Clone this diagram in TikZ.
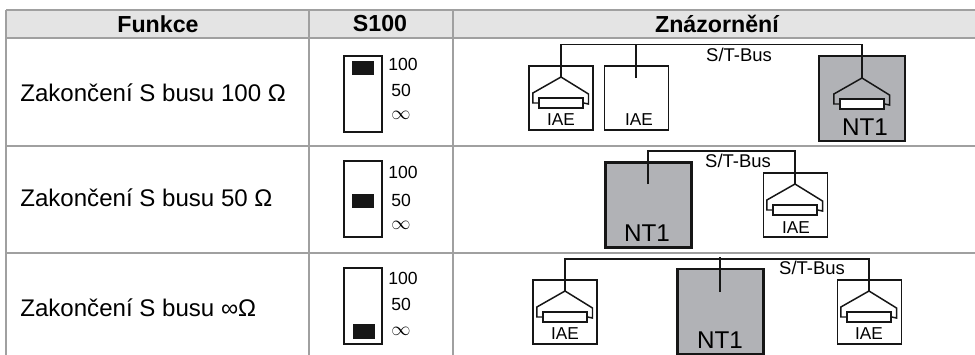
\documentclass[tikz,border=0pt]{standalone}
\usepackage{fontspec}
\setmainfont{Liberation Sans}
\usetikzlibrary{calc}

\definecolor{rulegray}{HTML}{A0A0A0}
\definecolor{headgray}{HTML}{E4E4E4}
\definecolor{ntgray}{HTML}{B1B2B6}
\definecolor{inkblack}{HTML}{161616}

\tikzset{
    wire/.style={draw=inkblack,line width=0.85pt},
    rule/.style={draw=rulegray,line width=1.1pt},
    iae/.style={draw=inkblack,line width=0.85pt,inner sep=0,minimum width=1.28cm,minimum height=1.28cm},
    ntone/.style={draw=inkblack,line width=1.2pt,fill=ntgray,inner sep=0,minimum width=1.72cm,minimum height=1.7cm},
    resistor/.style={draw=inkblack,line width=1pt,inner sep=0,minimum width=0.87cm,minimum height=0.21cm},
    switchbox/.style={draw=inkblack,line width=0.85pt,inner sep=0,minimum width=0.76cm,minimum height=1.52cm},
    knob/.style={fill=inkblack,inner sep=0,minimum width=0.43cm,minimum height=0.3cm},
    headtxt/.style={font=\fontsize{13.2}{16}\selectfont\bfseries,inner sep=0},
    rowtxt/.style={font=\fontsize{13.7}{16}\selectfont,anchor=west,inner sep=0},
    swtxt/.style={font=\fontsize{10}{12}\selectfont,anchor=west,inner sep=0},
    bustxt/.style={font=\fontsize{10.5}{12}\selectfont,inner sep=0},
    iaetxt/.style={font=\fontsize{9.8}{12}\selectfont,inner sep=0},
    nttxt/.style={font=\fontsize{13.8}{16}\selectfont,inner sep=0}
}

\begin{document}
\begin{tikzpicture}[x=0.02cm,y=-0.02cm]
    \useasboundingbox (0,0) rectangle (975,355);

    % table
    \fill[headgray] (6,10) rectangle (975,38);
    \foreach \ry in {10,38,146,253}
        \draw[rule] (6,\ry) -- (975,\ry);
    \foreach \rx in {6,309,453}
        \draw[rule] (\rx,10) -- (\rx,355);

    \node[headtxt] (headA) at (158,24) {Funkce};
    \node[headtxt] (headB) at (380,24) {S100};
    \node[headtxt] (headC) at (717,24) {Znázornění};

    \node[rowtxt] (funcA) at (20,93) {Zakončení S busu 100 Ω};
    \node[rowtxt] (funcB) at (20,198) {Zakončení S busu 50 Ω};
    \node[rowtxt] (funcC) at (20,308) {Zakončení S busu ∞Ω};

    % switches
    \newcommand{\swlabels}[4]{
        \node[swtxt] (#1h) at (388,#2) {100};
        \node[swtxt] (#1f) at (391,#3) {50};
        \node[swtxt] (#1i) at (391,#4) {\fontsize{10.5}{12}\selectfont$\infty$};
    }
    \node[switchbox] (swA) at (363,94) {};
    \node[knob] (knobA) at (363,68) {};
    \swlabels{swA}{64}{90}{115}
    \node[switchbox] (swB) at (363,199) {};
    \node[knob] (knobB) at (363,201) {};
    \swlabels{swB}{172}{200}{225}
    \node[switchbox] (swC) at (363,306) {};
    \node[knob] (knobC) at (364,331) {};
    \swlabels{swC}{278}{304}{331}

    % terminating resistor below an apex
    \newcommand{\termin}[2]{
        \node[resistor,fill=#2] (#1r) at ($(#1)+(0,26)$) {};
        \draw[wire] (#1r.west) -- ++(-5.5,0) -- ++(0,-10) -- (#1) -- ++(27.5,17) -- ++(0,10) -- (#1r.east);
    }

    % row 1
    \node[iae] (iaeA) at (561,98) {};
    \node[iae] (iaeB) at (636.5,98) {};
    \node[ntone] (ntA) at (862,98.5) {};
    \path coordinate (apexA) at (561,77);
    \path coordinate (dropB) at (636,78);
    \path coordinate (apexC) at (862,78);
    \path coordinate (busA) at (561,44.7);
    \path coordinate (busC) at (862,44.7);
    \draw[wire] (apexA) -- (busA) -- (busC) -- (apexC);
    \draw[wire] (dropB) -- (dropB |- busA);
    \termin{apexA}{white}
    \termin{apexC}{white}
    \node[iaetxt] (iaeAt) at (561,120) {IAE};
    \node[iaetxt] (iaeBt) at (639,120) {IAE};
    \node[nttxt] (ntAt) at (865,127) {NT1};
    \node[bustxt] (busAt) at (739,55) {S/T-Bus};

    % row 2
    \node[ntone] (ntB) at (648.5,205) {};
    \node[iae] (iaeD) at (795.5,205) {};
    \path coordinate (dropD) at (648,184);
    \path coordinate (apexD) at (795,184);
    \path coordinate (busD) at (648,151);
    \path coordinate (busE) at (795,151);
    \draw[wire] (dropD) -- (busD) -- (busE) -- (apexD);
    \termin{apexD}{white}
    \node[iaetxt] (iaeDt) at (796,228) {IAE};
    \node[nttxt] (ntBt) at (647,233) {NT1};
    \node[bustxt] (busBt) at (738,161) {S/T-Bus};

    % row 3
    \node[ntone] (ntC) at (720.5,311.5) {};
    \node[iae] (iaeF) at (565,312) {};
    \node[iae] (iaeG) at (869.5,312) {};
    \path coordinate (apexF) at (565,291);
    \path coordinate (apexG) at (869,291);
    \path coordinate (dropH) at (720,292);
    \path coordinate (busF) at (565,259);
    \path coordinate (busG) at (869,259);
    \draw[wire] (apexF) -- (busF) -- (busG) -- (apexG);
    \draw[wire] (dropH) -- ($(dropH |- busF)+(0,-2)$);
    \termin{apexF}{white}
    \termin{apexG}{white}
    \node[iaetxt] (iaeFt) at (565,334) {IAE};
    \node[iaetxt] (iaeGt) at (869,334) {IAE};
    \node[nttxt] (ntCt) at (720,340) {NT1};
    \node[bustxt] (busCt) at (812,268) {S/T-Bus};
\end{tikzpicture}
\end{document}
